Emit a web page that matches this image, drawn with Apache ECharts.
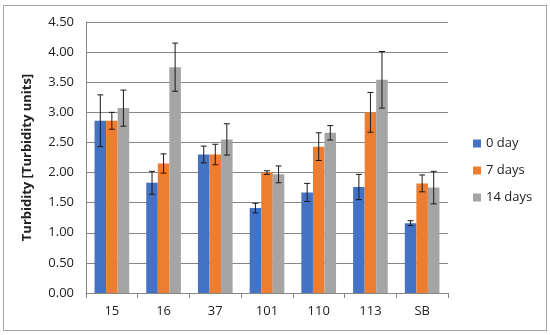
<!DOCTYPE html>
<html><head><meta charset="utf-8">
<script src="https://cdn.jsdelivr.net/npm/echarts@6/dist/echarts.min.js"></script>
<style>html,body{margin:0;padding:0;background:#fff}#c{width:550px;height:335px;position:relative}
#frame{position:absolute;left:3px;top:5px;width:542px;height:324px;border:1px solid #a6a6a6;pointer-events:none}</style>
</head><body><div id="c"></div><div id="frame"></div>
<script>
const categories = ['15','16','37','101','110','113','SB'];
const seriesNames = ['0 day','7 days','14 days'];
const day0 = [2.86,1.83,2.30,1.41,1.67,1.76,1.16];
const day7 = [2.86,2.15,2.30,2.00,2.43,3.00,1.82];
const day14 = [3.07,3.75,2.55,1.97,2.66,3.54,1.75];
const err0 = [0.43,0.19,0.14,0.08,0.15,0.21,0.04];
const err7 = [0.14,0.16,0.17,0.03,0.23,0.33,0.14];
const err14 = [0.30,0.40,0.26,0.14,0.12,0.47,0.27];
const yTicks = ['0.00','0.50','1.00','1.50','2.00','2.50','3.00','3.50','4.00','4.50'];
const colors = ['#4472C4','#ED7D31','#A5A5A5'];

const values = [day0, day7, day14];
const errs = [err0, err7, err14];
const gapRatio = 0.33;
const font = "'Open Sans', 'Liberation Sans', sans-serif";

const chart = echarts.init(document.getElementById('c'));
const series = [];
values.forEach((vals, s) => {
  series.push({
    name: seriesNames[s], type: 'bar', data: vals,
    barGap: '0%', barCategoryGap: (gapRatio*100)+'%',
    itemStyle: {color: colors[s]}
  });
});
values.forEach((vals, s) => {
  series.push({
    type: 'custom', name: 'err' + s, silent: true, z: 10,
    data: vals.map((v, i) => [i, v - errs[s][i], v + errs[s][i]]),
    renderItem: function (params, api) {
      const i = api.value(0);
      const lo = api.coord([i, api.value(1)]);
      const hi = api.coord([i, api.value(2)]);
      const cw = api.size([1, 0])[0];
      const bw = cw * (1 - gapRatio) / 3;
      const x = lo[0] + (s - 1) * bw;
      const hw = 3;
      const st = {stroke: '#1a1a1a', lineWidth: 1};
      return {type: 'group', children: [
        {type: 'line', shape: {x1: x, y1: lo[1], x2: x, y2: hi[1]}, style: st},
        {type: 'line', shape: {x1: x - hw, y1: lo[1], x2: x + hw, y2: lo[1]}, style: st},
        {type: 'line', shape: {x1: x - hw, y1: hi[1], x2: x + hw, y2: hi[1]}, style: st}
      ]};
    }
  });
});

chart.setOption({
  animation: false,
  textStyle: {fontFamily: font},
  grid: {left: 86, right: 102, top: 22, bottom: 42},
  legend: {
    data: seriesNames, orient: 'vertical', left: 468, top: 132,
    itemWidth: 8, itemHeight: 8, itemGap: 14, icon: 'rect',
    textStyle: {fontSize: 13, color: '#222', fontFamily: font}
  },
  xAxis: {
    type: 'category', data: categories,
    axisLine: {lineStyle: {color: '#868686'}},
    axisTick: {show: true, lineStyle: {color: '#868686'}, length: 5},
    axisLabel: {color: '#222', fontSize: 13, margin: 12}
  },
  yAxis: {
    type: 'value', min: 0, max: 4.5, interval: 0.5,
    name: 'Turbidity [Turbidity units]', nameLocation: 'middle', nameGap: 52,
    nameTextStyle: {fontWeight: 'bold', fontSize: 13, color: '#222'},
    axisLine: {show: true, lineStyle: {color: '#868686'}},
    axisTick: {show: false},
    splitLine: {lineStyle: {color: '#868686'}},
    axisLabel: {color: '#222', fontSize: 13, margin: 12,
      formatter: (v) => yTicks[Math.round(v / 0.5)]}
  },
  series: series
});
</script></body></html>
